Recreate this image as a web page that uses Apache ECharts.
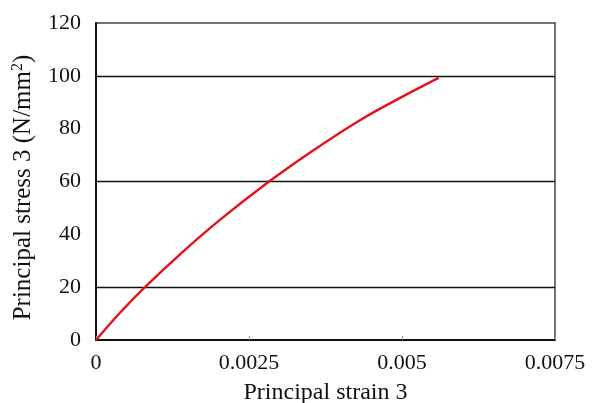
<!DOCTYPE html>
<html><head><meta charset="utf-8">
<script src="https://cdn.jsdelivr.net/npm/echarts@6/dist/echarts.min.js"></script>
<style>html,body{margin:0;padding:0;background:#fff}#c{width:598px;height:403px}</style>
</head><body><div id="c"></div>
<script>
var strain = [0, 0.0004, 0.0008, 0.0014, 0.0020, 0.0028, 0.0035, 0.0043, 0.0050, 0.0056];
var stress = [0, 10.5, 20, 33, 45, 59.5, 71, 83, 92, 99.2];
var gridValues = [20, 60, 100];
var xTicks = [0, 0.0025, 0.005, 0.0075];
var yTicks = [0, 20, 40, 60, 80, 100, 120];

var font = 'Liberation Serif';
var chart = echarts.init(document.getElementById('c'));
chart.setOption({
  animation: false,
  grid: {left: 96, right: 43, top: 23, bottom: 63, outerBoundsMode: 'none', containLabel: false, show: true, borderColor: '#444', borderWidth: 1.5, backgroundColor: 'transparent'},
  xAxis: {
    type: 'value', min: 0, max: 0.0075, interval: 0.0025,
    name: 'Principal strain 3', nameLocation: 'middle', nameGap: 41,
    nameTextStyle: {fontFamily: font, fontSize: 24, color: '#111'},
    axisLine: {show: true, onZero: false, lineStyle: {color: '#111', width: 2}},
    axisTick: {show: true, inside: true, length: 4, lineStyle: {color: '#999'}},
    axisLabel: {fontFamily: font, fontSize: 22, color: '#111', margin: 12,
      formatter: function (v) { return xTicks.indexOf(v) >= 0 ? String(v) : ''; }},
    splitLine: {show: false}
  },
  yAxis: {
    type: 'value', min: 0, max: 120, interval: 20,
    name: 'Principal stress 3 (N/mm{sup|2})', nameLocation: 'middle', nameGap: 60,
    nameTextStyle: {fontFamily: font, fontSize: 25, color: '#111', padding: [0, 12, 0, 0],
      rich: {sup: {fontFamily: font, fontSize: 16, verticalAlign: 'top', padding: [0,0,10,0], color:'#111'}}},
    axisLine: {show: true, lineStyle: {color: '#111', width: 2}},
    axisTick: {show: false},
    axisLabel: {fontFamily: font, fontSize: 22, color: '#111', margin: 15,
      formatter: function (v) { return yTicks.indexOf(v) >= 0 ? String(v) : ''; }},
    splitLine: {show: false}
  },
  series: [{
    type: 'line',
    data: strain.map(function (s, i) { return [s, stress[i]]; }),
    smooth: 0.4, showSymbol: false,
    lineStyle: {color: '#e3141b', width: 2.5},
    z: 5,
    markLine: {
      silent: true, symbol: ['none', 'none'], label: {show: false},
      lineStyle: {color: '#111', width: 1.3, type: 'solid'},
      data: gridValues.map(function (v) { return {yAxis: v}; }),
      z: 1
    }
  }]
});
</script></body></html>
